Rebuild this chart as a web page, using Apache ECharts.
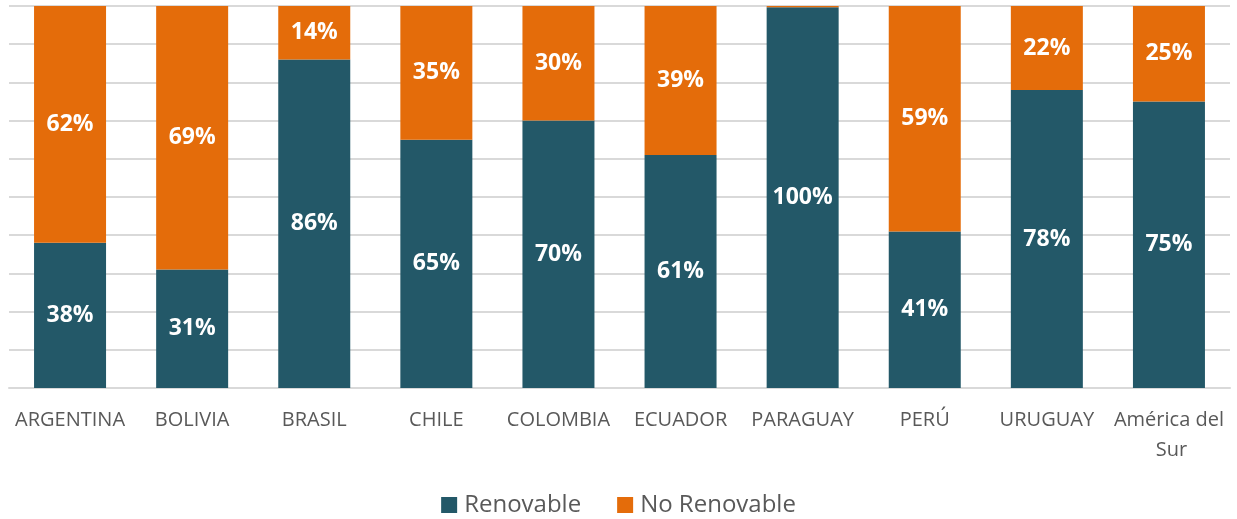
<!DOCTYPE html>
<html><head><meta charset="utf-8">
<script src="https://cdn.jsdelivr.net/npm/echarts@6/dist/echarts.min.js"></script>
<style>html,body{margin:0;padding:0;background:#fff}#c{width:1237px;height:519px}</style>
</head><body><div id="c"></div>
<script>
const categories = ['ARGENTINA','BOLIVIA','BRASIL','CHILE','COLOMBIA','ECUADOR','PARAGUAY','PERÚ','URUGUAY','América del Sur'];
const renovable = [38, 31, 86, 65, 70, 61, 99.7, 41, 78, 75];
const noRenovable = [62, 69, 14, 35, 30, 39, 0.3, 59, 22, 25];

const FONT = '"Open Sans", "Noto Sans", sans-serif';
const lbl = {
  show: true, position: 'inside', color: '#fff', fontWeight: 'bold', fontSize: 23, fontFamily: FONT,
  formatter: p => p.value < 3 ? '' : Math.round(p.value) + '%'
};
const chart = echarts.init(document.getElementById('c'));
chart.setOption({
  animation: false,
  grid: { left: 9, right: 7, top: 6, bottom: 131, containLabel: false },
  legend: {
    top: 488, left: 'center', itemWidth: 16, itemHeight: 16, itemGap: 36,
    icon: 'rect',
    textStyle: { fontSize: 24, color: '#595959', fontFamily: FONT, padding: [0,0,0,2] },
    data: ['Renovable', 'No Renovable']
  },
  xAxis: {
    type: 'category', data: categories,
    axisLine: { lineStyle: { color: '#d9d9d9', width: 2 } },
    axisTick: { show: false },
    axisLabel: { color: '#595959', fontSize: 20, fontFamily: FONT, margin: 17, lineHeight: 30, width: 122, overflow: 'break', interval: 0 }
  },
  yAxis: {
    type: 'value', min: 0, max: 100, interval: 10,
    axisLabel: { show: false },
    splitLine: { lineStyle: { color: '#d9d9d9', width: 2 } },
    axisLine: { show: false }, axisTick: { show: false }
  },
  series: [
    { name: 'Renovable', type: 'bar', stack: 'a', data: renovable, barWidth: 72,
      itemStyle: { color: '#235868' }, label: lbl },
    { name: 'No Renovable', type: 'bar', stack: 'a', data: noRenovable, barWidth: 72,
      itemStyle: { color: '#E46C0A' }, label: lbl }
  ]
});
</script></body></html>
